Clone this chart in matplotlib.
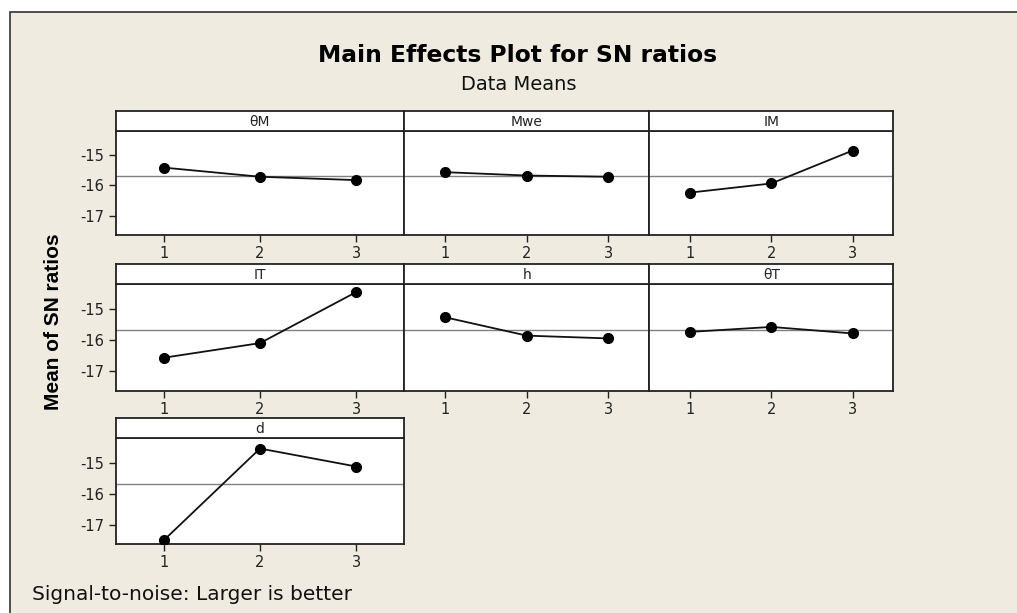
import matplotlib.pyplot as plt
from matplotlib.patches import Rectangle

# data
factors = ["θM", "Mwe", "IM", "IT", "h", "θT", "d"]
levels = [1, 2, 3]
theta_m = [-15.42, -15.72, -15.83]
mwe = [-15.57, -15.68, -15.72]
im = [-16.24, -15.94, -14.86]
it = [-16.57, -16.10, -14.46]
h = [-15.27, -15.86, -15.95]
theta_t = [-15.74, -15.58, -15.79]
d = [-17.50, -14.54, -15.12]
means = [theta_m, mwe, im, it, h, theta_t, d]
grand_mean = -15.68
yticks = [-15, -16, -17]

plt.rcParams["axes.unicode_minus"] = False

W, H = 1017, 613
bg = "#EFEBE1"

fig = plt.figure(figsize=(W / 100, H / 100), dpi=100)
fig.patch.set_facecolor("white")
frame = Rectangle((9.7 / W, -0.01), 1.1, 1 - 12.3 / H + 0.01,
                  transform=fig.transFigure, facecolor=bg,
                  edgecolor="#333333", lw=1.2, zorder=-10)
fig.patches.append(frame)

def fx(x):
    return x / W

def fy(y):
    return 1 - y / H

cols = [(115.7, 404.3), (404.3, 649.3), (649.3, 893.3)]
rows = [(130.7, 235.0), (284.3, 390.7), (438.3, 544.3)]
head_h = 20

for k, name in enumerate(factors):
    r, c = divmod(k, 3)
    x0, x1 = cols[c]
    y0, y1 = rows[r]
    ax = fig.add_axes([fx(x0), fy(y1), fx(x1) - fx(x0), fy(y0) - fy(y1)])
    ax.set_facecolor("white")
    ax.axhline(grand_mean, color="#808080", lw=1.0, zorder=1)
    ax.plot(levels, means[k], color="#111111", lw=1.3, marker="o",
            markersize=7, markerfacecolor="black", markeredgecolor="black", zorder=3)
    ax.set_xlim(0.5, 3.5)
    ax.set_ylim(-17.63, -14.21)
    ax.set_xticks(levels)
    ax.set_yticks(yticks)
    ax.tick_params(direction="out", length=5, width=1, color="#222222",
                   labelsize=10.5, labelcolor="#222222", pad=3)
    if c != 0:
        ax.tick_params(axis="y", left=False, labelleft=False)
    for s in ax.spines.values():
        s.set_color("#222222")
        s.set_linewidth(1.3)

    hax = fig.add_axes([fx(x0), fy(y0), fx(x1) - fx(x0), head_h / H])
    hax.set_facecolor("white")
    hax.set_xticks([])
    hax.set_yticks([])
    for s in hax.spines.values():
        s.set_color("#222222")
        s.set_linewidth(1.3)
    hax.text(0.5, 0.45, name, ha="center", va="center", fontsize=10,
             color="#222222", transform=hax.transAxes)

fig.text(fx(518), fy(55), "Main Effects Plot for SN ratios", ha="center",
         va="center", fontsize=16.8, fontweight="bold", color="black")
fig.text(fx(519), fy(84), "Data Means", ha="center", va="center",
         fontsize=14, color="#111111")
fig.text(fx(54), fy(322), "Mean of SN ratios", ha="center", va="center",
         rotation=90, fontsize=15, fontweight="bold", family="Liberation Sans")
fig.text(fx(32), fy(594), "Signal-to-noise: Larger is better", ha="left",
         va="center", fontsize=14.5, color="#111111")

fig.savefig("out.png", dpi=100, facecolor=fig.get_facecolor())
